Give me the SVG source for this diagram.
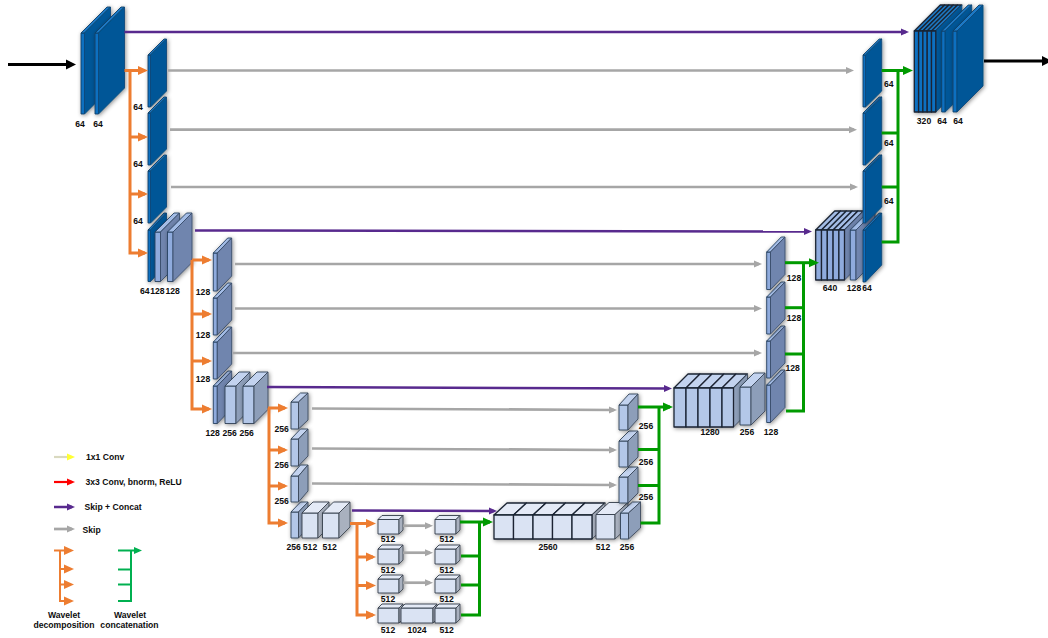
<svg xmlns="http://www.w3.org/2000/svg" width="1048" height="638" viewBox="0 0 1048 638">
<style>
text{font-family:"Liberation Sans",Arial,sans-serif;font-weight:700;font-size:8.6px;fill:#0d0d0d;text-anchor:middle}
.l{text-anchor:start}
.n{filter:url(#sh)}
.n rect,.n path{stroke-width:.9;stroke-linejoin:round}
.c1 rect{fill:#0f6fc0;stroke:#123f66}.c1 .t{fill:#1d78c4;stroke:#123f66}.c1 .s{fill:#005797;stroke:#0b4a7c}
.c2 rect{fill:#8fabdd;stroke:#25405f}.c2 .t{fill:#a3bce6;stroke:#25405f}.c2 .s{fill:#7085ae;stroke:#3c4f6c}
.c3 rect{fill:#b3c7e8;stroke:#2e3f55}.c3 .t{fill:#c3d3ef;stroke:#2e3f55}.c3 .s{fill:#8d9eb9;stroke:#3c4a5c}
.c4 rect{fill:#dae3f3;stroke:#323c4a}.c4 .t{fill:#e4eaf6;stroke:#323c4a}.c4 .s{fill:#a9b1bf;stroke:#404854}
.m rect,.m .t{stroke:#1a2433;stroke-width:1.300}
#connectors path{fill:none;stroke-linejoin:miter}
.or{stroke:#ed7d31;stroke-width:3}
.gn{stroke:#009a00;stroke-width:3}
.gy{stroke:#a6a6a6;stroke-width:2.700}
.pu{stroke:#582a8e;stroke-width:2.500}
.bk{stroke:#000;stroke-width:3.200}
</style>
<defs>
<filter id="sh" x="-30%" y="-30%" width="160%" height="160%"><feDropShadow dx="1" dy="1" stdDeviation="2" flood-color="#000" flood-opacity=".45"/></filter>
<marker id="mo" markerUnits="userSpaceOnUse" markerWidth="10" markerHeight="10" refX="7" refY="5" orient="auto"><path d="M0 .5L10 5L0 9.5z" fill="#ed7d31"/></marker>
<marker id="mg" markerUnits="userSpaceOnUse" markerWidth="10" markerHeight="10" refX="7" refY="5" orient="auto"><path d="M0 .5L10 5L0 9.5z" fill="#009a00"/></marker>
<marker id="my" markerUnits="userSpaceOnUse" markerWidth="8" markerHeight="8" refX="5" refY="4" orient="auto"><path d="M0 .5L8 4L0 7.5z" fill="#a6a6a6"/></marker>
<marker id="mp" markerUnits="userSpaceOnUse" markerWidth="8" markerHeight="8" refX="5" refY="4" orient="auto"><path d="M0 .5L8 4L0 7.5z" fill="#582a8e"/></marker>
<marker id="mk" markerUnits="userSpaceOnUse" markerWidth="11" markerHeight="11" refX="7" refY="5.5" orient="auto"><path d="M0 .5L10 5.5L0 10.5z" fill="#000"/></marker>
<marker id="ly" markerUnits="userSpaceOnUse" markerWidth="8" markerHeight="8" refX="5" refY="4" orient="auto"><path d="M0 .5L8 4L0 7.5z" fill="#ffff33"/></marker>
<marker id="lr" markerUnits="userSpaceOnUse" markerWidth="8" markerHeight="8" refX="5" refY="4" orient="auto"><path d="M0 .5L8 4L0 7.5z" fill="#ff0000"/></marker>
<marker id="lg" markerUnits="userSpaceOnUse" markerWidth="8" markerHeight="8" refX="5" refY="4" orient="auto"><path d="M0 .5L8 4L0 7.5z" fill="#00b050"/></marker>
</defs>

<!-- encoder level 1 -->
<g id="enc1a" class="n c1"><rect x="81" y="33" width="3.5" height="81"/><path class="t" d="M81 33l26-26h3.5l-26 26z"/><path class="s" d="M84.5 33l26-26v81l-26 26z"/></g>
<g id="enc1b" class="n c1"><rect x="95" y="33" width="3.5" height="81"/><path class="t" d="M95 33l26-26h3.5l-26 26z"/><path class="s" d="M98.5 33l26-26v81l-26 26z"/></g>
<g id="wd1a" class="n c1"><rect x="148" y="55" width="2.5" height="52"/><path class="t" d="M148 55l16-16h2.5l-16 16z"/><path class="s" d="M150.5 55l16-16v52l-16 16z"/></g>
<g id="wd1b" class="n c1"><rect x="148" y="113" width="2.5" height="52"/><path class="t" d="M148 113l16-16h2.5l-16 16z"/><path class="s" d="M150.5 113l16-16v52l-16 16z"/></g>
<g id="wd1d" class="n c1"><rect x="148" y="230" width="2.5" height="51.5"/><path class="t" d="M148 230l16-17h2.5l-16 17z"/><path class="s" d="M150.5 230l16-17v51.5l-16 17z"/></g>
<g id="wd1c" class="n c1"><rect x="148" y="171" width="2.5" height="52"/><path class="t" d="M148 171l16-16h2.5l-16 16z"/><path class="s" d="M150.5 171l16-16v52l-16 16z"/></g>
<g id="enc2a" class="n c2"><rect x="155" y="232" width="5.5" height="49.5"/><path class="t" d="M155 232l19-19h5.5l-19 19z"/><path class="s" d="M160.5 232l19-19v49.5l-19 19z"/></g>
<g id="enc2b" class="n c2"><rect x="167.5" y="232" width="5.5" height="49.5"/><path class="t" d="M167.5 232l19-19h5.5l-19 19z"/><path class="s" d="M173 232l19-19v49.5l-19 19z"/></g>

<!-- encoder level 2 -->
<g id="wd2a" class="n c2"><rect x="213.3" y="253" width="4" height="38"/><path class="t" d="M213.3 253l14.4-15h4l-14.4 15z"/><path class="s" d="M217.3 253l14.4-15v38l-14.4 15z"/></g>
<g id="wd2b" class="n c2"><rect x="213.3" y="298" width="4" height="37"/><path class="t" d="M213.3 298l14.4-15h4l-14.4 15z"/><path class="s" d="M217.3 298l14.4-15v37l-14.4 15z"/></g>
<g id="wd2d" class="n c2"><rect x="213.3" y="386" width="4" height="37.5"/><path class="t" d="M213.3 386l14.4-15h4l-14.4 15z"/><path class="s" d="M217.3 386l14.4-15v37.5l-14.4 15z"/></g>
<g id="wd2c" class="n c2"><rect x="213.3" y="342" width="4" height="37"/><path class="t" d="M213.3 342l14.4-15h4l-14.4 15z"/><path class="s" d="M217.3 342l14.4-15v37l-14.4 15z"/></g>
<g id="enc3a" class="n c3"><rect x="225" y="386" width="11" height="37.5"/><path class="t" d="M225 386l14-14h11l-14 14z"/><path class="s" d="M236 386l14-14v37.5l-14 14z"/></g>
<g id="enc3b" class="n c3"><rect x="243" y="386" width="11" height="37.5"/><path class="t" d="M243 386l14-14h11l-14 14z"/><path class="s" d="M254 386l14-14v37.5l-14 14z"/></g>

<!-- encoder level 3 -->
<g id="wd3a" class="n c3"><rect x="291" y="402" width="7.5" height="27"/><path class="t" d="M291 402l9.5-9h7.5l-9.5 9z"/><path class="s" d="M298.5 402l9.5-9v27l-9.5 9z"/></g>
<g id="wd3b" class="n c3"><rect x="291" y="439" width="7.5" height="27"/><path class="t" d="M291 439l9.5-10h7.5l-9.5 10z"/><path class="s" d="M298.5 439l9.5-10v27l-9.5 10z"/></g>
<g id="wd3d" class="n c3"><rect x="291" y="512" width="7.5" height="26"/><path class="t" d="M291 512l9.5-10h7.5l-9.5 10z"/><path class="s" d="M298.5 512l9.5-10v26l-9.5 10z"/></g>
<g id="wd3c" class="n c3"><rect x="291" y="476" width="7.5" height="26"/><path class="t" d="M291 476l9.5-11h7.5l-9.5 11z"/><path class="s" d="M298.5 476l9.5-11v26l-9.5 11z"/></g>
<g id="enc4a" class="n c4"><rect x="302" y="513" width="16" height="25"/><path class="t" d="M302 513l11-11h16l-11 11z"/><path class="s" d="M318 513l11-11v25l-11 11z"/></g>
<g id="enc4b" class="n c4"><rect x="322.5" y="513" width="16.5" height="25"/><path class="t" d="M322.5 513l11-11h16.5l-11 11z"/><path class="s" d="M339 513l11-11v25l-11 11z"/></g>

<!-- level 4 -->
<g id="wd4a" class="n c4"><rect x="378" y="519.5" width="21" height="14.5"/><path class="t" d="M378 519.5l4-4h21l-4 4z"/><path class="s" d="M399 519.5l4-4v14.5l-4 4z"/></g>
<g id="wd4b" class="n c4"><rect x="378" y="549" width="21" height="15"/><path class="t" d="M378 549l4-4h21l-4 4z"/><path class="s" d="M399 549l4-4v15l-4 4z"/></g>
<g id="wd4c" class="n c4"><rect x="378" y="579" width="21" height="14"/><path class="t" d="M378 579l4-4h21l-4 4z"/><path class="s" d="M399 579l4-4v14l-4 4z"/></g>
<g id="wd4d" class="n c4"><rect x="378" y="608" width="21" height="15"/><path class="t" d="M378 608l4-4h21l-4 4z"/><path class="s" d="M399 608l4-4v15l-4 4z"/></g>
<g id="bn1024" class="n c4"><rect x="401" y="608" width="32" height="15"/><path class="t" d="M401 608l4-4h32l-4 4z"/><path class="s" d="M433 608l4-4v15l-4 4z"/></g>
<g id="wc4a" class="n c4"><rect x="435" y="519.5" width="21" height="14.5"/><path class="t" d="M435 519.5l4-4h21l-4 4z"/><path class="s" d="M456 519.5l4-4v14.5l-4 4z"/></g>
<g id="wc4b" class="n c4"><rect x="435" y="549" width="21" height="15"/><path class="t" d="M435 549l4-4h21l-4 4z"/><path class="s" d="M456 549l4-4v15l-4 4z"/></g>
<g id="wc4c" class="n c4"><rect x="435" y="579" width="21" height="14"/><path class="t" d="M435 579l4-4h21l-4 4z"/><path class="s" d="M456 579l4-4v14l-4 4z"/></g>
<g id="wc4d" class="n c4"><rect x="435" y="608" width="21" height="15"/><path class="t" d="M435 608l4-4h21l-4 4z"/><path class="s" d="M456 608l4-4v15l-4 4z"/></g>

<!-- decoder level 3 -->
<g id="dec2560" class="n c4 m">
<path class="t" d="M494 515l13-12h19.5l-13 12z"/><path class="t" d="M513.5 515l13-12h19.5l-13 12z"/><path class="t" d="M533 515l13-12h19.5l-13 12z"/><path class="t" d="M552.5 515l13-12h19.5l-13 12z"/><path class="t" d="M572 515l13-12h20l-13 12z"/>
<path class="s" d="M592 515l13-12v24l-13 12z"/>
<rect x="494" y="515" width="19.5" height="24"/><rect x="513.5" y="515" width="19.5" height="24"/><rect x="533" y="515" width="19.5" height="24"/><rect x="552.5" y="515" width="19.5" height="24"/><rect x="572" y="515" width="20" height="24"/>
</g>
<g id="dec512" class="n c4"><rect x="596" y="514.5" width="19" height="24.5"/><path class="t" d="M596 514.5l13-12h19l-13 12z"/><path class="s" d="M615 514.5l13-12v24.5l-13 12z"/></g>
<g id="wc3d" class="n c3"><rect x="620.5" y="513" width="8" height="26"/><path class="t" d="M620.5 513l12-11h8l-12 11z"/><path class="s" d="M628.5 513l12-11v26l-12 11z"/></g>
<g id="wc3c" class="n c3"><rect x="619" y="477" width="9" height="26"/><path class="t" d="M619 477l10-10h9l-10 10z"/><path class="s" d="M628 477l10-10v26l-10 10z"/></g>
<g id="wc3b" class="n c3"><rect x="619" y="441" width="9" height="26"/><path class="t" d="M619 441l10-10h9l-10 10z"/><path class="s" d="M628 441l10-10v26l-10 10z"/></g>
<g id="wc3a" class="n c3"><rect x="619" y="405" width="9" height="25"/><path class="t" d="M619 405l10-11h9l-10 11z"/><path class="s" d="M628 405l10-11v25l-10 11z"/></g>

<!-- decoder level 2 -->
<g id="dec1280" class="n c3 m">
<path class="t" d="M674 388l14-14h12l-14 14z"/><path class="t" d="M686 388l14-14h12l-14 14z"/><path class="t" d="M698 388l14-14h12l-14 14z"/><path class="t" d="M710 388l14-14h12l-14 14z"/><path class="t" d="M722 388l14-14h11.500l-14 14z"/>
<path class="s" d="M733.500 388l14-14v39l-14 14z"/>
<rect x="674" y="388" width="12" height="39"/><rect x="686" y="388" width="12" height="39"/><rect x="698" y="388" width="12" height="39"/><rect x="710" y="388" width="12" height="39"/><rect x="722" y="388" width="11.500" height="39"/>
</g>
<g id="dec256" class="n c3"><rect x="740" y="387" width="11" height="38"/><path class="t" d="M740 387l14-14h11l-14 14z"/><path class="s" d="M751 387l14-14v38l-14 14z"/></g>
<g id="wc2d" class="n c2"><rect x="766.700" y="385" width="3.800" height="37.500"/><path class="t" d="M766.700 385l14.500-15h3.800l-14.500 15z"/><path class="s" d="M770.500 385l14.500-15v37.500l-14.500 15z"/></g>
<g id="wc2c" class="n c2"><rect x="766.700" y="341" width="3.800" height="37"/><path class="t" d="M766.700 341l14.500-15h3.800l-14.500 15z"/><path class="s" d="M770.500 341l14.500-15v37l-14.500 15z"/></g>
<g id="wc2b" class="n c2"><rect x="766.700" y="297" width="3.800" height="37"/><path class="t" d="M766.700 297l14.500-15h3.800l-14.500 15z"/><path class="s" d="M770.500 297l14.500-15v37l-14.500 15z"/></g>
<g id="wc2a" class="n c2"><rect x="766.700" y="252" width="3.800" height="37.500"/><path class="t" d="M766.700 252l14.500-15h3.800l-14.500 15z"/><path class="s" d="M770.500 252l14.500-15v37.500l-14.500 15z"/></g>

<!-- decoder level 1 -->
<g id="dec640" class="n c2 m">
<path class="t" d="M815.700 230l19-19h5.800l-19 19z"/><path class="t" d="M821.500 230l19-19h5.800l-19 19z"/><path class="t" d="M827.300 230l19-19h5.800l-19 19z"/><path class="t" d="M833.100 230l19-19h5.800l-19 19z"/><path class="t" d="M838.900 230l19-19h5.600l-19 19z"/>
<path class="s" d="M844.500 230l19-19v50l-19 19z"/>
<rect x="815.700" y="230" width="5.800" height="50"/><rect x="821.500" y="230" width="5.800" height="50"/><rect x="827.300" y="230" width="5.800" height="50"/><rect x="833.100" y="230" width="5.800" height="50"/><rect x="838.900" y="230" width="5.600" height="50"/>
</g>
<g id="dec128" class="n c2"><rect x="850.300" y="230" width="5.700" height="50"/><path class="t" d="M850.300 230l19-19h5.700l-19 19z"/><path class="s" d="M856 230l19-19v50l-19 19z"/></g>
<g id="wc1d" class="n c1"><rect x="863" y="230" width="2.500" height="52"/><path class="t" d="M863 230l16.200-17h2.500l-16.200 17z"/><path class="s" d="M865.500 230l16.200-17v52l-16.200 17z"/></g>
<g id="wc1c" class="n c1"><rect x="863" y="171" width="2.500" height="52"/><path class="t" d="M863 171l16.200-16h2.500l-16.200 16z"/><path class="s" d="M865.500 171l16.200-16v52l-16.200 16z"/></g>
<g id="wc1b" class="n c1"><rect x="863" y="113" width="2.500" height="52"/><path class="t" d="M863 113l16.200-16h2.500l-16.200 16z"/><path class="s" d="M865.500 113l16.200-16v52l-16.200 16z"/></g>
<g id="wc1a" class="n c1"><rect x="863" y="55" width="2.500" height="52"/><path class="t" d="M863 55l16.200-16h2.500l-16.200 16z"/><path class="s" d="M865.500 55l16.200-16v52l-16.200 16z"/></g>

<!-- output -->
<g id="dec320" class="n c1 m">
<path class="t" d="M914.300 31l26-26h4.300l-26 26z"/><path class="t" d="M918.600 31l26-26h4.300l-26 26z"/><path class="t" d="M922.900 31l26-26h4.300l-26 26z"/><path class="t" d="M927.200 31l26-26h4.300l-26 26z"/><path class="t" d="M931.500 31l26-26h4.300l-26 26z"/>
<path class="s" d="M935.800 31l26-26v81l-26 26z"/>
<rect x="914.300" y="31" width="4.300" height="81"/><rect x="918.600" y="31" width="4.300" height="81"/><rect x="922.900" y="31" width="4.300" height="81"/><rect x="927.200" y="31" width="4.300" height="81"/><rect x="931.500" y="31" width="4.300" height="81"/>
</g>
<g id="dec64a" class="n c1"><rect x="941.700" y="31" width="3.500" height="81"/><path class="t" d="M941.700 31l26.500-26h3.500l-26.500 26z"/><path class="s" d="M945.200 31l26.500-26v81l-26.500 26z"/></g>
<g id="dec64b" class="n c1"><rect x="953" y="31" width="4" height="81"/><path class="t" d="M953 31l26-26h4l-26 26z"/><path class="s" d="M957 31l26-26v81l-26 26z"/></g>

<g id="connectors">
<path class="bk" d="M8 64.500H73" marker-end="url(#mk)"/>
<path class="bk" d="M984 61H1049" marker-end="url(#mk)"/>
<!-- skip + concat -->
<path class="pu" d="M124.500 32H906" marker-end="url(#mp)"/>
<path class="pu" d="M195 230.500L809 231.500" marker-end="url(#mp)"/>
<path class="pu" d="M267 387L669 388.500" marker-end="url(#mp)"/>
<path class="pu" d="M352 510.500L494 511" marker-end="url(#mp)"/>
<!-- skip -->
<path class="gy" d="M168 70.500H851" marker-end="url(#my)"/>
<path class="gy" d="M170 129.700H854" marker-end="url(#my)"/>
<path class="gy" d="M171 187H855" marker-end="url(#my)"/>
<path class="gy" d="M235 264H759" marker-end="url(#my)"/>
<path class="gy" d="M235 308.500H759" marker-end="url(#my)"/>
<path class="gy" d="M233 353H759" marker-end="url(#my)"/>
<path class="gy" d="M312 408.500L614 410" marker-end="url(#my)"/>
<path class="gy" d="M312 448.500L614 450" marker-end="url(#my)"/>
<path class="gy" d="M312 483.500L614 485" marker-end="url(#my)"/>
<path class="gy" d="M403 525.700H430" marker-end="url(#my)"/>
<path class="gy" d="M403 552.700H430" marker-end="url(#my)"/>
<path class="gy" d="M403 582.700H430" marker-end="url(#my)"/>
<!-- wavelet decomposition -->
<path class="or" d="M124.500 70.500H145" marker-end="url(#mo)"/>
<path class="or" d="M130 137H145" marker-end="url(#mo)"/>
<path class="or" d="M130 194H145" marker-end="url(#mo)"/>
<path class="or" d="M130 70.500V253H145" marker-end="url(#mo)"/>
<path class="or" d="M192 260H209" marker-end="url(#mo)"/>
<path class="or" d="M192 314H209" marker-end="url(#mo)"/>
<path class="or" d="M192 361H209" marker-end="url(#mo)"/>
<path class="or" d="M192 260V409H209" marker-end="url(#mo)"/>
<path class="or" d="M268 408H285" marker-end="url(#mo)"/>
<path class="or" d="M269 450H285" marker-end="url(#mo)"/>
<path class="or" d="M269 486H285" marker-end="url(#mo)"/>
<path class="or" d="M269 408V523H285" marker-end="url(#mo)"/>
<path class="or" d="M350 523.500H373" marker-end="url(#mo)"/>
<path class="or" d="M357 557H373" marker-end="url(#mo)"/>
<path class="or" d="M357 585.500H373" marker-end="url(#mo)"/>
<path class="or" d="M357 523.500V615H373" marker-end="url(#mo)"/>
<!-- wavelet concatenation -->
<path class="gn" d="M881.700 70.500H910" marker-end="url(#mg)"/>
<path class="gn" d="M881.700 133H898"/>
<path class="gn" d="M881.700 187H898"/>
<path class="gn" d="M898 70.500V242H881.700"/>
<path class="gn" d="M785 262.700H816" marker-end="url(#mg)"/>
<path class="gn" d="M785 307.700H804"/>
<path class="gn" d="M785 354H804"/>
<path class="gn" d="M803.500 262.700V411H786"/>
<path class="gn" d="M638 407H670" marker-end="url(#mg)"/>
<path class="gn" d="M638 449.500H659"/>
<path class="gn" d="M638 485.500H659"/>
<path class="gn" d="M659 407V523H640.500"/>
<path class="gn" d="M460 522H490" marker-end="url(#mg)"/>
<path class="gn" d="M461 556H480"/>
<path class="gn" d="M461 585H480"/>
<path class="gn" d="M479.500 522V615H461"/>
<!-- legend -->
<path stroke="#d9d9c0" stroke-width="2.200" d="M54 457H72" marker-end="url(#ly)"/>
<path stroke="#ff0000" stroke-width="2.200" d="M54 482H72" marker-end="url(#lr)"/>
<path class="pu" d="M54 507H72" marker-end="url(#mp)"/>
<path class="gy" d="M54 529H72" marker-end="url(#my)"/>
<path class="or" style="stroke-width:2" d="M54 550.500H71" marker-end="url(#mo)"/>
<path class="or" style="stroke-width:2" d="M60 569H71" marker-end="url(#mo)"/>
<path class="or" style="stroke-width:2" d="M60 584.500H71" marker-end="url(#mo)"/>
<path class="or" style="stroke-width:2" d="M60 550.500V601H71" marker-end="url(#mo)"/>
<path stroke="#00b050" stroke-width="2" d="M118 550.500H139" marker-end="url(#lg)"/>
<path stroke="#00b050" stroke-width="2" d="M118 569.500H131"/>
<path stroke="#00b050" stroke-width="2" d="M118 584.500H131"/>
<path stroke="#00b050" stroke-width="2" d="M131 550.500V601H118"/>
</g>

<g id="labels">
<text x="80" y="127">64</text><text x="98" y="127">64</text>
<text x="138" y="110">64</text><text x="138" y="167">64</text><text x="138" y="224">64</text>
<text x="144.700" y="294">64</text><text x="157.300" y="294">128</text><text x="172.700" y="294">128</text>
<text x="203" y="295">128</text><text x="203" y="338">128</text><text x="203" y="382">128</text>
<text x="212.700" y="436">128</text><text x="229.700" y="436">256</text><text x="246.700" y="436">256</text>
<text x="281.700" y="432">256</text><text x="281.700" y="468">256</text><text x="281.700" y="504">256</text>
<text x="293.700" y="550">256</text><text x="310" y="550">512</text><text x="329.700" y="550">512</text>
<text x="388" y="542">512</text><text x="388" y="573">512</text><text x="388" y="602">512</text><text x="388" y="633">512</text>
<text x="417" y="633">1024</text>
<text x="446.700" y="542">512</text><text x="446.700" y="573">512</text><text x="446.700" y="602">512</text><text x="446.700" y="633">512</text>
<text x="548" y="550">2560</text><text x="603" y="550">512</text><text x="627" y="550">256</text>
<text x="646" y="429">256</text><text x="646" y="465">256</text><text x="646" y="500">256</text>
<text x="710" y="435">1280</text><text x="747" y="435">256</text><text x="771" y="435">128</text>
<text x="794" y="281">128</text><text x="794" y="321">128</text><text x="792.600" y="371">128</text>
<text x="830" y="291">640</text><text x="854" y="291">128</text><text x="867" y="291">64</text>
<text x="888.700" y="87">64</text><text x="888.700" y="146">64</text><text x="888.700" y="204">64</text>
<text x="924" y="124">320</text><text x="942" y="124">64</text><text x="958" y="124">64</text>
</g>

<g id="legend-text">
<text class="l" x="86" y="460">1x1 Conv</text>
<text class="l" x="85.500" y="485">3x3 Conv, bnorm, ReLU</text>
<text class="l" x="84.500" y="510">Skip + Concat</text>
<text class="l" x="82.500" y="533">Skip</text>
<text x="64" y="618">Wavelet</text><text x="64" y="628">decomposition</text>
<text x="130" y="618">Wavelet</text><text x="129.500" y="628">concatenation</text>
</g>
</svg>
